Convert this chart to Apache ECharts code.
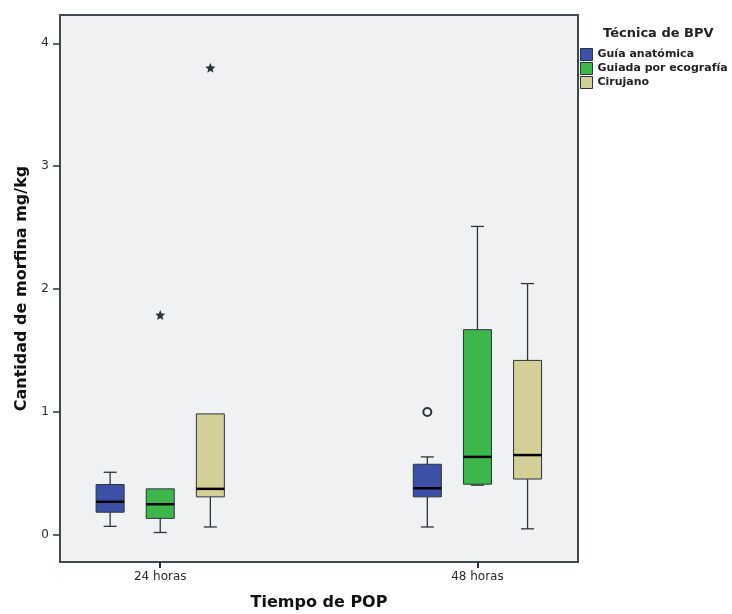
<!DOCTYPE html>
<html>
<head>
<meta charset="utf-8">
<script src="https://cdn.jsdelivr.net/npm/echarts@6/dist/echarts.min.js"></script>
<style>
  html, body { margin: 0; padding: 0; background: #fff; }
  #chart { width: 732px; height: 614px; }
</style>
</head>
<body>
<div id="chart"></div>
<script>
// categorias del eje X
const times = ['24 horas', '48 horas']
const techniques = ['Guía anatómica', 'Guiada por ecografía', 'Cirujano']
const colors = ['#3b50a6', '#3cb84b', '#d4cf96']
// [min, Q1, mediana, Q3, max] por tiempo
const guiaAnatomica = [[0.07, 0.185, 0.27, 0.41, 0.51], [0.065, 0.31, 0.38, 0.575, 0.635]]
const guiadaEcografia = [[0.02, 0.135, 0.25, 0.375, 0.375], [0.405, 0.413, 0.635, 1.67, 2.51]]
const cirujano = [[0.065, 0.31, 0.375, 0.985, 0.985], [0.05, 0.455, 0.65, 1.42, 2.045]]
// [indice tiempo, indice técnica, valor]
const outliers = [[1, 0, 1.0]]
const extremes = [[0, 1, 1.79], [0, 2, 3.80]]
const yTicks = [0, 1, 2, 3, 4]

const allStats = [guiaAnatomica, guiadaEcografia, cirujano]
const offset = 0.158 // separación entre cajas
const pos = (t, s) => t + 1 + (s - 1) * offset

const font = 'DejaVu Sans'
const dark = '#2a353a'

const chart = echarts.init(document.getElementById('chart'))

function renderBox (params, api) {
  const x = api.coord([api.value(0), 0])[0]
  const y = v => api.coord([0, api.value(v)])[1]
  const half = 14
  const cap = 6.5
  const line = { stroke: dark, lineWidth: 1.3 }
  const children = []
  if (api.value(5) > api.value(4)) {
    children.push({ type: 'line', shape: { x1: x, y1: y(5), x2: x, y2: y(4) }, style: line })
    children.push({ type: 'line', shape: { x1: x - cap, y1: y(5), x2: x + cap, y2: y(5) }, style: line })
  }
  if (api.value(1) < api.value(2)) {
    children.push({ type: 'line', shape: { x1: x, y1: y(1), x2: x, y2: y(2) }, style: line })
    children.push({ type: 'line', shape: { x1: x - cap, y1: y(1), x2: x + cap, y2: y(1) }, style: line })
  }
  children.push({
    type: 'rect',
    shape: { x: x - half, y: y(4), width: half * 2, height: y(2) - y(4) },
    style: { fill: colors[params.seriesIndex], stroke: dark, lineWidth: 1 }
  })
  children.push({
    type: 'line',
    shape: { x1: x - half, y1: y(3), x2: x + half, y2: y(3) },
    style: { stroke: '#000', lineWidth: 2.5 }
  })
  return { type: 'group', children: children }
}

const boxSeries = allStats.map((stats, s) => ({
  name: techniques[s],
  type: 'custom',
  renderItem: renderBox,
  itemStyle: { color: colors[s], borderColor: dark, borderWidth: 1 },
  encode: { x: 0, y: [1, 2, 3, 4, 5] },
  data: stats.map((st, t) => [pos(t, s)].concat(st)),
  z: 2
}))

const starPath = 'path://M0,-1L0.265,-0.364L0.951,-0.309L0.428,0.139L0.588,0.809L0,0.45L-0.588,0.809L-0.428,0.139L-0.951,-0.309L-0.265,-0.364Z'

const option = {
  animation: false,
  backgroundColor: '#fff',
  textStyle: { fontFamily: font },
  title: {
    text: 'Técnica de BPV',
    left: 598,
    top: 22,
    textStyle: { fontSize: 13, fontWeight: 'bold', color: '#222', fontFamily: font }
  },
  legend: {
    data: techniques,
    orient: 'vertical',
    left: 580,
    top: 48,
    padding: 0,
    itemWidth: 12,
    itemHeight: 12,
    itemGap: 1,
    icon: 'rect',
    itemStyle: { borderColor: dark, borderWidth: 1 },
    textStyle: { fontSize: 11, fontWeight: 'bold', color: '#222', fontFamily: font }
  },
  grid: {
    left: 60,
    top: 15,
    width: 518,
    height: 547,
    containLabel: false,
    outerBoundsMode: 'none',
    show: true,
    backgroundColor: '#eff1f2',
    borderColor: '#3d4a4e',
    borderWidth: 2
  },
  xAxis: {
    type: 'value',
    min: 0.684,
    max: 2.317,
    name: 'Tiempo de POP',
    nameLocation: 'middle',
    nameGap: 33,
    nameTextStyle: { fontSize: 16, fontWeight: 'bold', color: '#111', fontFamily: font },
    axisLine: { show: false, onZero: false },
    splitLine: { show: false },
    axisTick: { show: true, customValues: [1, 2], length: 6, lineStyle: { color: dark, width: 2 } },
    axisLabel: {
      customValues: [1, 2],
      formatter: v => times[Math.round(v) - 1],
      fontSize: 12,
      color: '#2a2a2a',
      margin: 9
    }
  },
  yAxis: {
    type: 'value',
    min: -0.22,
    max: 4.23,
    name: 'Cantidad de morfina mg/kg',
    nameLocation: 'middle',
    nameGap: 30,
    nameTextStyle: { fontSize: 16, fontWeight: 'bold', color: '#111', fontFamily: font },
    axisLine: { show: false, onZero: false },
    splitLine: { show: false },
    axisTick: { show: true, customValues: yTicks, length: 7, lineStyle: { color: dark, width: 1.5 } },
    axisLabel: { customValues: yTicks, fontSize: 12, color: '#2a2a2a', margin: 11 }
  },
  series: boxSeries.concat([
    {
      name: 'outliers',
      type: 'scatter',
      symbol: 'circle',
      symbolSize: 8,
      itemStyle: { color: '#eff1f2', borderColor: dark, borderWidth: 2, opacity: 1 },
      data: outliers.map(o => [pos(o[0], o[1]), o[2]]),
      z: 3
    },
    {
      name: 'extremes',
      type: 'scatter',
      symbol: starPath,
      symbolSize: 10,
      itemStyle: { color: dark, opacity: 1 },
      data: extremes.map(o => [pos(o[0], o[1]), o[2]]),
      z: 3
    }
  ])
}

chart.setOption(option)
</script>
</body>
</html>
